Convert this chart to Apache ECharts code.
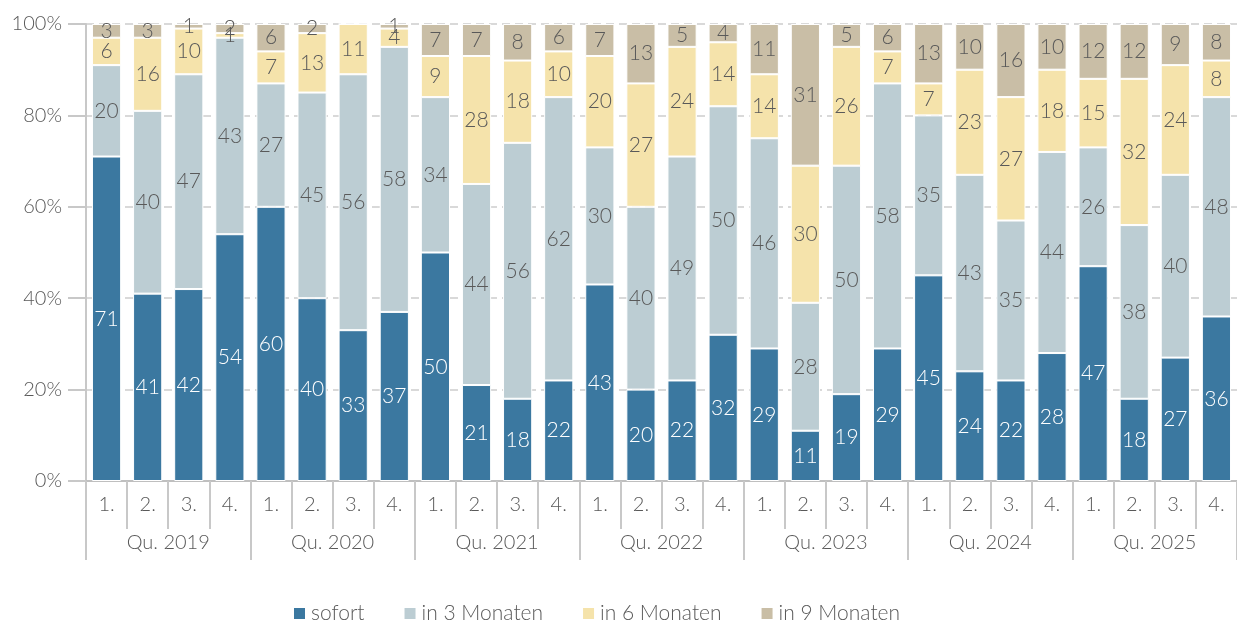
<!DOCTYPE html>
<html>
<head>
<meta charset="utf-8">
<script src="https://cdn.jsdelivr.net/npm/echarts@6/dist/echarts.min.js"></script>
<style>
  html, body { margin: 0; padding: 0; background: #fff; }
  #chart { width: 1237px; height: 625px; }
</style>
</head>
<body>
<div id="chart"></div>
<script>
// Quartale und Jahre
var quarters = [];
var years = ['Qu. 2019', 'Qu. 2020', 'Qu. 2021', 'Qu. 2022', 'Qu. 2023', 'Qu. 2024', 'Qu. 2025'];
for (var y = 0; y < years.length; y++) {
  quarters.push('1.', '2.', '3.', '4.');
}

// Anteile in %
var sofort    = [71, 41, 42, 54, 60, 40, 33, 37, 50, 21, 18, 22, 43, 20, 22, 32, 29, 11, 19, 29, 45, 24, 22, 28, 47, 18, 27, 36];
var in3Monate = [20, 40, 47, 43, 27, 45, 56, 58, 34, 44, 56, 62, 30, 40, 49, 50, 46, 28, 50, 58, 35, 43, 35, 44, 26, 38, 40, 48];
var in6Monate = [6, 16, 10, 1, 7, 13, 11, 4, 9, 28, 18, 10, 20, 27, 24, 14, 14, 30, 26, 7, 7, 23, 27, 18, 15, 32, 24, 8];
var in9Monate = [3, 3, 1, 2, 6, 2, 0, 1, 7, 7, 8, 6, 7, 13, 5, 4, 11, 31, 5, 6, 13, 10, 16, 10, 12, 12, 9, 8];

var fontName = 'Lato';
var txtColor = '#595959';

function makeSerie(name, data, color, labelColor) {
  return {
    name: name,
    type: 'bar',
    stack: 'gesamt',
    barWidth: '71%',
    data: data,
    itemStyle: { color: color, borderColor: '#ffffff', borderWidth: 1 },
    label: {
      show: true,
      position: 'inside',
      color: labelColor,
      fontFamily: fontName,
      fontWeight: 300,
      fontSize: 21,
      formatter: function (p) { return p.value == 0 ? '' : p.value; }
    }
  };
}

var chart = echarts.init(document.getElementById('chart'));
chart.setOption({
  animation: false,
  textStyle: { fontFamily: fontName },
  grid: { left: 86, right: -6, top: 24, bottom: 144, containLabel: false },
  legend: {
    top: 598,
    left: 287,
    itemWidth: 13,
    itemHeight: 13,
    itemGap: 38,
    icon: 'rect',
    textStyle: { color: txtColor, fontSize: 21, fontWeight: 300, fontFamily: fontName },
    data: ['sofort', 'in 3 Monaten', 'in 6 Monaten', 'in 9 Monaten']
  },
  xAxis: [{
    type: 'category',
    data: quarters,
    position: 'bottom',
    axisLine: { lineStyle: { color: '#bfbfbf', width: 2 } },
    axisTick: { show: true, interval: 0, length: 48, lineStyle: { color: '#c8c8c8', width: 2 } },
    axisLabel: { color: txtColor, fontSize: 20, fontWeight: 300, margin: 14, interval: 0 }
  }, {
    type: 'category',
    data: years,
    position: 'bottom',
    axisLine: { show: false },
    axisTick: { show: true, interval: 0, length: 79, lineStyle: { color: '#c8c8c8', width: 2 } },
    axisLabel: { color: txtColor, fontSize: 20, fontWeight: 300, margin: 52, interval: 0 }
  }],
  yAxis: {
    type: 'value',
    min: 0,
    max: 100,
    interval: 20,
    axisLine: { show: true, lineStyle: { color: '#c8c8c8', width: 2 } },
    axisTick: { show: true, length: 18, lineStyle: { color: '#c8c8c8', width: 2 } },
    axisLabel: { color: txtColor, fontSize: 20, fontWeight: 300, margin: 24, formatter: '{value}%' },
    splitLine: { lineStyle: { color: '#d9d9d9', type: [8, 5], width: 2 } }
  },
  series: [
    makeSerie('sofort', sofort, '#3b78a0', '#ffffff'),
    makeSerie('in 3 Monaten', in3Monate, '#bccdd3', txtColor),
    makeSerie('in 6 Monaten', in6Monate, '#f5e3ab', txtColor),
    makeSerie('in 9 Monaten', in9Monate, '#c9bea6', txtColor)
  ]
});
</script>
</body>
</html>
